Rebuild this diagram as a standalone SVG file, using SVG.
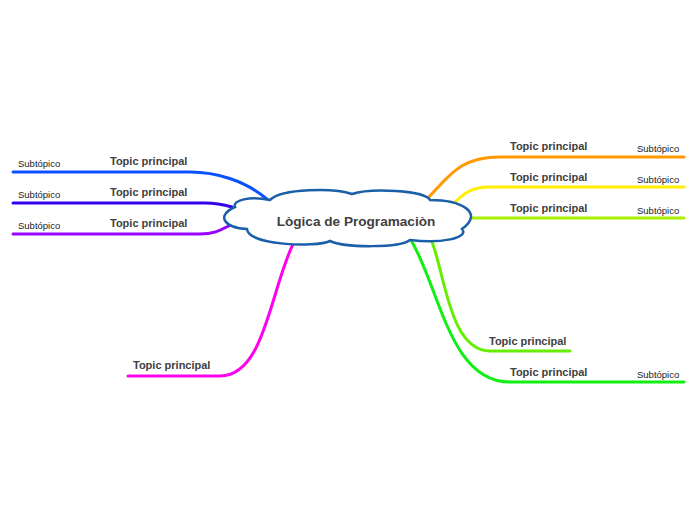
<svg xmlns="http://www.w3.org/2000/svg" width="697" height="520" viewBox="0 0 697 520">
<style>
.c{fill:none;stroke-width:3;stroke-linecap:round}
.t{font-family:"Liberation Sans",Arial,sans-serif;font-weight:bold;font-size:11px;fill:#404040}
.s{font-family:"Liberation Sans",Arial,sans-serif;font-size:9.5px;fill:#222}
.title{font-family:"Liberation Sans",Arial,sans-serif;font-weight:bold;font-size:13.6px;fill:#404040}
</style>
<rect width="697" height="520" fill="#fff"/>
<g id="connectors">
<path class="c" stroke="#0a50ff" d="M13,172 H190 C215,172 245,180 268,200"/>
<path class="c" stroke="#3300ee" d="M13,203 H205 C218,203 225,205 232,207"/>
<path class="c" stroke="#9900ff" d="M13,234 H200 C220,234 225,226 238,222"/>
<path class="c" stroke="#ff9900" d="M428,198 C450,175 460,157 500,157 H684"/>
<path class="c" stroke="#ffee00" d="M452,205 C462,195 470,187 490,187 H684"/>
<path class="c" stroke="#aaee00" d="M470,218 H684"/>
<path class="c" stroke="#66ee00" d="M432,242 C445,275 450,351 490,351 H570"/>
<path class="c" stroke="#11ee11" d="M412,242 C440,290 450,382 510,382 H684"/>
<path class="c" stroke="#ff00ee" d="M294,242 C270,290 265,376 220,376 H128"/>
</g>
<g id="center">
<path d="M247,229 C225,228 215,216 235,207 C232,200 250,196 270,200 C282,188 335,188 352,194 C370,188 425,190 430,200 C460,200 485,212 462,229 C470,238 440,244 410,240 C400,248 345,248 330,241 C315,248 248,245 247,229 Z" fill="#fff" stroke="#1a5fa8" stroke-width="2.5"/>
<text class="title" x="356" y="226" text-anchor="middle">Lògica de Programaciòn</text>
</g>
<g id="n1"><text class="t" x="110" y="165">Topic principal</text><text class="s" x="18" y="167">Subtópico</text></g>
<g id="n2"><text class="t" x="110" y="196">Topic principal</text><text class="s" x="18" y="198">Subtópico</text></g>
<g id="n3"><text class="t" x="110" y="227">Topic principal</text><text class="s" x="18" y="229">Subtópico</text></g>
<g id="n4"><text class="t" x="510" y="150">Topic principal</text><text class="s" x="637" y="152">Subtópico</text></g>
<g id="n5"><text class="t" x="510" y="181">Topic principal</text><text class="s" x="637" y="183">Subtópico</text></g>
<g id="n6"><text class="t" x="510" y="212">Topic principal</text><text class="s" x="637" y="214">Subtópico</text></g>
<g id="n7"><text class="t" x="489" y="345">Topic principal</text></g>
<g id="n8"><text class="t" x="510" y="376">Topic principal</text><text class="s" x="637" y="378">Subtópico</text></g>
<g id="n9"><text class="t" x="133" y="369">Topic principal</text></g>
</svg>
